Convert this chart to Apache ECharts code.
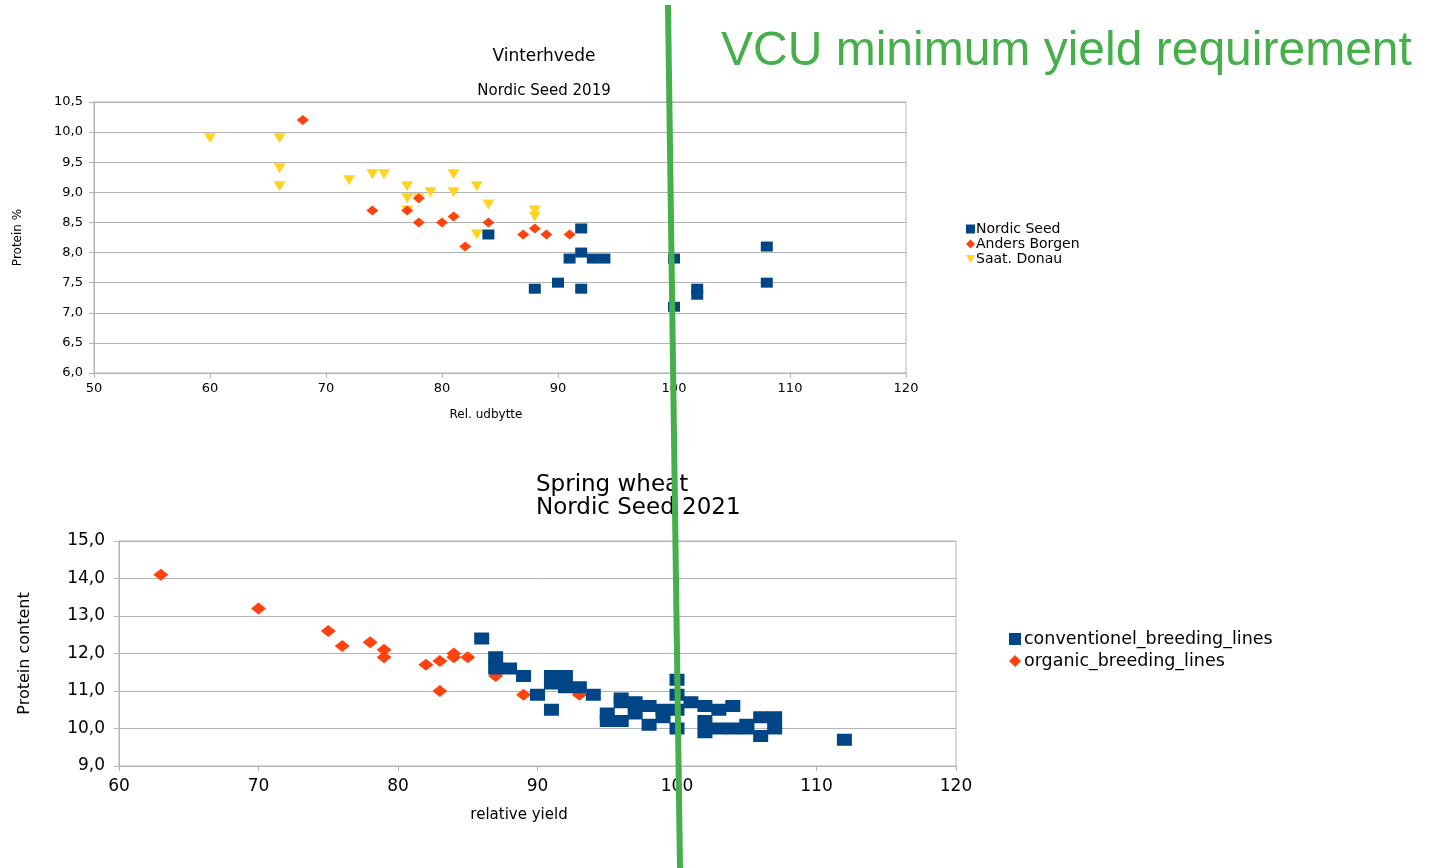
<!DOCTYPE html>
<html lang="en">
<head>
    <meta charset="UTF-8">
    <script src="https://cdn.jsdelivr.net/npm/echarts@6/dist/echarts.min.js"></script>
    <title>VCU minimum yield requirement</title>
</head>
<body>
    <style>
        html, body, #main {
            margin: 0;
            width: 1432px;
            height: 868px;
            background: #fff;
        }
    </style>
    <div id="main"></div>
    <script>
        // Vinterhvede, Nordic Seed 2019
        var nordicSeed = [
            [84, 8.3], [88, 7.4], [90, 7.5], [91, 7.9], [92, 8.4], [92, 8.0], [92, 7.4],
            [93, 7.9], [94, 7.9], [100, 7.9], [100, 7.1], [102, 7.4], [102, 7.3],
            [108, 8.1], [108, 7.5]
        ];
        var andersBorgen = [
            [68, 10.2], [74, 8.7], [77, 8.7], [78, 8.9], [78, 8.5], [80, 8.5], [81, 8.6],
            [82, 8.1], [84, 8.5], [87, 8.3], [88, 8.4], [89, 8.3], [91, 8.3]
        ];
        var saatDonau = [
            [60, 9.9], [66, 9.9], [66, 9.4], [66, 9.1], [72, 9.2], [74, 9.3], [75, 9.3],
            [77, 9.1], [77, 8.9], [77, 8.7], [78, 8.9], [79, 9.0], [81, 9.3], [81, 9.0],
            [83, 9.1], [84, 8.8], [83, 8.3], [88, 8.7], [88, 8.6]
        ];

        // Spring wheat, Nordic Seed 2021
        var conventionelLines = [
            [86, 12.4], [87, 11.9], [87, 11.6], [88, 11.6], [89, 11.4], [90, 10.9],
            [91, 11.4], [91, 11.2], [91, 10.5], [92, 11.4], [92, 11.1], [93, 11.1],
            [94, 10.9], [95, 10.4], [95, 10.2], [96, 10.8], [96, 10.7], [96, 10.2],
            [97, 10.7], [97, 10.4], [98, 10.6], [98, 10.1], [99, 10.5], [99, 10.3],
            [100, 11.3], [100, 10.9], [100, 10.5], [100, 10.0], [101, 10.7],
            [102, 10.6], [102, 10.2], [102, 9.9], [103, 10.5], [103, 10.0],
            [104, 10.6], [104, 10.0], [105, 10.1], [105, 10.0], [106, 10.3], [106, 9.8],
            [107, 10.3], [107, 10.0], [112, 9.7]
        ];
        var organicLines = [
            [63, 14.1], [70, 13.2], [75, 12.6], [76, 12.2], [78, 12.3], [79, 12.1],
            [79, 11.9], [82, 11.7], [83, 11.8], [83, 11.0], [84, 12.0], [84, 11.9],
            [85, 11.9], [87, 11.4], [89, 10.9], [93, 10.9]
        ];

        var BLUE = '#004586', RED = '#ff420e', YELLOW = '#ffd320', GREEN = '#45b04a';
        var GRID = '#b3b3b3';
        var FONT = '"DejaVu Sans", sans-serif';
        var TRI_DOWN = 'path://M0,0L10,0L5,9Z';

        function comma(v) {
            return v.toFixed(1).replace('.', ',');
        }

        var chart = echarts.init(document.getElementById('main'));

        function xAx(idx, min, max, size, margin, name, nsize, gap, pad) {
            return {
                gridIndex: idx, type: 'value', min: min, max: max, interval: 10,
                name: name, nameLocation: 'middle', nameGap: gap,
                nameTextStyle: { fontSize: nsize, color: '#000', fontFamily: FONT, padding: [0, pad, 0, 0] },
                axisLine: { lineStyle: { color: GRID } },
                axisTick: { show: true, lineStyle: { color: GRID } },
                axisLabel: { fontSize: size, color: '#000', fontFamily: FONT, margin: margin },
                splitLine: { show: false }
            };
        }
        function yAx(idx, min, max, interval, size, margin, name, gap, nsize) {
            return {
                gridIndex: idx, type: 'value', min: min, max: max, interval: interval,
                name: name, nameLocation: 'middle', nameGap: gap, nameRotate: 90,
                nameTextStyle: { fontSize: nsize, color: '#000', fontFamily: FONT },
                axisLine: { show: true, lineStyle: { color: GRID } },
                axisTick: { show: true, lineStyle: { color: GRID } },
                axisLabel: { fontSize: size, color: '#000', fontFamily: FONT, margin: margin, formatter: comma },
                splitLine: { show: true, lineStyle: { color: GRID } }
            };
        }

        function label(text, x, y, size, align) {
            return { type: 'text', x: x, y: y, z: 50,
                     style: { text: text, fill: '#000', fontSize: size, fontFamily: FONT,
                              align: align || 'center', verticalAlign: 'middle' } };
        }

        chart.setOption({
            animation: false,
            backgroundColor: '#fff',
            textStyle: { fontFamily: FONT },
            legend: [
                { orient: 'vertical', left: 961, top: 217, itemWidth: 9, itemHeight: 9, itemGap: 1,
                  data: [
                      { name: 'Nordic Seed', icon: 'rect' },
                      { name: 'Anders Borgen', icon: 'diamond' },
                      { name: 'Saat. Donau', icon: TRI_DOWN }
                  ],
                  textStyle: { fontSize: 14, color: '#000', padding: [0, 0, 0, -4] } },
                { orient: 'vertical', left: 1004, top: 625, itemWidth: 12, itemHeight: 12, itemGap: 4,
                  data: [
                      { name: 'conventionel_breeding_lines', icon: 'rect' },
                      { name: 'organic_breeding_lines', icon: 'diamond' }
                  ],
                  textStyle: { fontSize: 17.5, color: '#000', padding: [0, 0, 0, -2] } }
            ],
            grid: [
                { left: 94, top: 102, width: 812, height: 271, show: true, borderColor: GRID, borderWidth: 1 },
                { left: 119, top: 541, width: 837, height: 225, show: true, borderColor: GRID, borderWidth: 1 }
            ],
            xAxis: [
                xAx(0, 50, 120, 13, 9, 'Rel. udbytte', 12, 36, 28),
                xAx(1, 60, 120, 17, 12, 'relative yield', 15, 42, 37)
            ],
            yAxis: [
                yAx(0, 6, 10.5, 0.5, 13, 11, 'Protein %', 70, 12),
                yAx(1, 9, 15, 1, 17, 14, 'Protein content', 86, 16)
            ],
            series: [
                { name: 'Nordic Seed', type: 'scatter', xAxisIndex: 0, yAxisIndex: 0,
                  symbol: 'rect', symbolSize: [12, 10], itemStyle: { color: BLUE, opacity: 1 }, data: nordicSeed, z: 4 },
                { name: 'Anders Borgen', type: 'scatter', xAxisIndex: 0, yAxisIndex: 0,
                  symbol: 'diamond', symbolSize: [12, 10], itemStyle: { color: RED, opacity: 1 }, data: andersBorgen, z: 3 },
                { name: 'Saat. Donau', type: 'scatter', xAxisIndex: 0, yAxisIndex: 0,
                  symbol: TRI_DOWN, symbolSize: [12, 10], itemStyle: { color: YELLOW, opacity: 1 }, data: saatDonau, z: 2 },
                { name: 'conventionel_breeding_lines', type: 'scatter', xAxisIndex: 1, yAxisIndex: 1,
                  symbol: 'rect', symbolSize: [15, 12], itemStyle: { color: BLUE, opacity: 1 }, data: conventionelLines, z: 3 },
                { name: 'organic_breeding_lines', type: 'scatter', xAxisIndex: 1, yAxisIndex: 1,
                  symbol: 'diamond', symbolSize: [15, 12], itemStyle: { color: RED, opacity: 1 }, data: organicLines, z: 2 }
            ],
            graphic: [
                label('Vinterhvede', 544, 57, 17),
                label('Nordic Seed 2019', 544, 91, 15),
                label('Spring wheat', 536, 485, 23, 'left'),
                label('Nordic Seed 2021', 536, 508, 23, 'left'),
                { type: 'line', z: 100, shape: { x1: 668, y1: 5, x2: 680, y2: 868 },
                  style: { stroke: GREEN, lineWidth: 6 } },
                { type: 'text', z: 100, x: 721, y: 52,
                  style: { text: 'VCU minimum yield requirement', fill: GREEN, fontSize: 48,
                           fontFamily: '"Liberation Sans", Arial, sans-serif', verticalAlign: 'middle' } }
            ]
        });
    </script>
</body>
</html>
